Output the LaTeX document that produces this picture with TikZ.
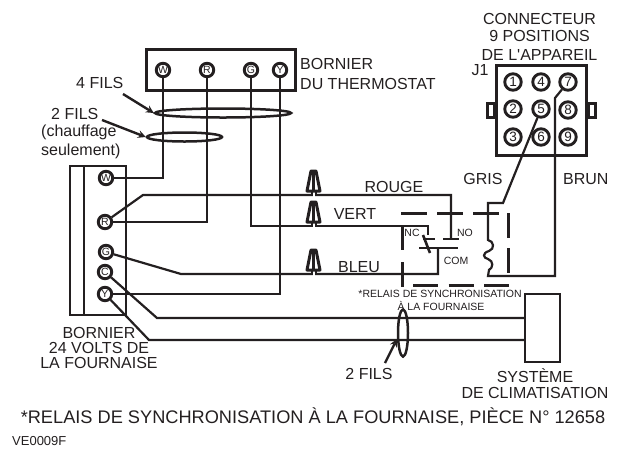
\documentclass[tikz,border=0pt]{standalone}
\usepackage{fontspec}
\setmainfont{Liberation Sans}
\usetikzlibrary{shapes.geometric}
\definecolor{ink}{RGB}{35,31,32}
\tikzset{
	wire/.style={line width=2.2pt, color=ink},
	boxed/.style={draw=ink, line width=3pt, rectangle, inner sep=0pt},
	term/.style={draw=ink, line width=2.9pt, circle, inner sep=0pt, minimum size=13.5pt, font=\fontsize{10.5}{11}\selectfont, text=ink},
	pinpos/.style={term, minimum size=16.5pt, font=\fontsize{13.5}{14}\selectfont},
	ring/.style={draw=ink, line width=2.5pt, ellipse, inner sep=0pt},
	lab/.style={inner sep=0pt, align=center, text=ink, font=\fontsize{16}{18.5}\selectfont},
	tiny/.style={inner sep=0pt, align=center, text=ink, font=\fontsize{10.5}{12}\selectfont},
	ptr/.style={-stealth, line width=2.4pt, color=ink},
	relay/.style={line width=3pt, color=ink},
	nut/.pic={
		\fill[white] (-1,-5) rectangle (1,1.5);
		\draw[line width=2pt, color=ink] (-2,0) -- (-2,-4) (2,0) -- (2,-4);
		\draw[line width=3pt, color=ink, line join=round] (-6.5,-4) -- (-2.5,-24) -- (2.5,-24) -- (6.5,-4) -- cycle;
		\draw[line width=2.2pt, color=ink] (0,-24) -- (0,-4);
	}
}
\begin{document}
\begin{tikzpicture}[x=1pt, y=-1pt]
	\useasboundingbox (0,0) rectangle (626,448);
	% bornier du thermostat
	\node[boxed, minimum width=149pt, minimum height=41pt] (tstat) at (221,70) {};
	\node[term] (thW) at (163,70) {W};
	\node[term] (thR) at (207,70) {R};
	\node[term] (thG) at (251,70) {G};
	\node[term] (thY) at (280,70) {Y};
	\node[lab, anchor=west] (tstatA) at (300,64) {BORNIER};
	\node[lab, anchor=west] (tstatB) at (300,84) {DU THERMOSTAT};
	% bornier de la fournaise
	\node[boxed, line width=2.5pt, minimum width=56pt, minimum height=149pt] (furn) at (98,240.5) {};
	\coordinate (furnI) at (84,165);
	\draw[wire] (furnI) -- (furnI |- furn.south);
	\node[term] (foW) at (106,178) {W};
	\node[term] (foR) at (105,222) {R};
	\node[term] (foG) at (106,252) {G};
	\node[term] (foC) at (105,272) {C};
	\node[term] (foY) at (105,294) {Y};
	\node[lab] (furnA) at (99,333) {BORNIER};
	\node[lab] (furnB) at (99,348) {24 VOLTS DE};
	\node[lab] (furnC) at (99,363) {LA FOURNAISE};
	% connecteur
	\node[boxed, minimum width=90pt, minimum height=90pt] (conn) at (541,110) {};
	\node[boxed, minimum width=7pt, minimum height=14pt] (tabL) at (491,110) {};
	\node[boxed, minimum width=7pt, minimum height=14pt] (tabR) at (591.5,110) {};
	\node[pinpos] (c1) at (513,82) {1};
	\node[pinpos] (c2) at (513,109) {2};
	\node[pinpos] (c3) at (513,137) {3};
	\node[pinpos] (c4) at (541,82) {4};
	\node[pinpos] (c5) at (541,109) {5};
	\node[pinpos] (c6) at (541,137) {6};
	\node[pinpos] (c7) at (568,82) {7};
	\node[pinpos] (c8) at (568,110) {8};
	\node[pinpos] (c9) at (568,137) {9};
	\node[lab] (connA) at (539.5,18.5) {CONNECTEUR};
	\node[lab] (connB) at (539.5,36) {9 POSITIONS};
	\node[lab] (connC) at (539.5,55) {DE L\textquotesingle APPAREIL};
	\node[lab] (jone) at (480,70) {J1};
	% systeme
	\node[boxed, line width=2.5pt, minimum width=35pt, minimum height=68pt] (sys) at (542.5,328) {};
	\node[lab] (sysA) at (535,376) {SYSTÈME};
	\node[lab] (sysB) at (535,393) {DE CLIMATISATION};
	% fils
	\coordinate (rBend) at (143,195);
	\coordinate (rDrop) at (451,239);
	\coordinate (gDrop) at (428,235);
	\coordinate (gBend) at (181,274);
	\coordinate (comTop) at (438,248);
	\coordinate (cBend) at (157,318);
	\coordinate (yBend) at (149,340);
	\coordinate (grisA) at (503,203);
	\coordinate (grisB) at (488,203);
	\coordinate (loopA) at (488,240);
	\coordinate (loopB) at (488,276);
	\coordinate (brunA) at (555,98);
	\draw[wire] (thW) |- (foW);
	\draw[wire] (thR) |- (foR);
	\draw[wire] (thG) |- (gDrop |- 0,226) -- (gDrop);
	\draw[wire] (thY) |- (foY);
	\draw[wire] (foR) -- (rBend) -| (rDrop);
	\draw[wire] (foG) -- (gBend) -| (comTop);
	\draw[wire] (foC) -- (cBend) -- (cBend -| sys.west);
	\draw[wire] (foY) -- (yBend) -- (yBend -| sys.west);
	\draw[wire] (c5) -- (grisA) -- (grisB) -- (loopA) .. controls (494,241) and (495,249) .. (489,251) .. controls (482,253) and (483,258) .. (488,259) .. controls (494,261) and (493,268) .. (489,270) -- (loopB) -- (loopB -| brunA) -- (brunA) -- (c7);
	% relais
	\draw[relay, dash pattern=on 26pt off 10pt] (401,213) -- (499,213);
	\draw[relay, dash pattern=on 25pt off 10pt] (508,213) -- (508,274);
	\draw[relay, dash pattern=on 25pt off 12pt] (402,225) -- (402,287);
	\draw[relay, dash pattern=on 25pt off 10.5pt] (413,285) -- (510,285);
	\coordinate (ncL) at (423,239);
	\coordinate (noL) at (443,239);
	\coordinate (comL) at (419,248);
	\coordinate (armA) at (423,235);
	\coordinate (armB) at (430,253);
	\draw[wire] (ncL) -- (ncL -| 435,0);
	\draw[wire] (noL) -- (noL -| 459,0);
	\draw[wire] (comL) -- (comL -| 458,0);
	\draw[wire, line width=2.6pt] (armA) -- (armB);
	\node[tiny] (lNC) at (412,233) {NC};
	\node[tiny] (lNO) at (465,233) {NO};
	\node[tiny] (lCOM) at (456,261) {COM};
	\node[tiny] (rlA) at (440,294) {*RELAIS DE SYNCHRONISATION};
	\node[tiny] (rlB) at (441,306) {À LA FOURNAISE};
	% capuchons
	\pic at (313.5,195) {nut};
	\pic at (313.5,226) {nut};
	\pic at (313.5,274) {nut};
	\node[lab] (rouge) at (394,187) {ROUGE};
	\node[lab] (vert) at (355,214) {VERT};
	\node[lab] (bleu) at (359,267) {BLEU};
	\node[lab] (gris) at (483,179) {GRIS};
	\node[lab, anchor=west] (brun) at (563,179) {BRUN};
	% groupes de fils
	\node[ring, minimum width=136pt, minimum height=9pt] (ringD) at (223,113) {};
	\node[ring, minimum width=75pt, minimum height=9pt] (ringE) at (184.5,137) {};
	\node[ring, minimum width=10pt, minimum height=47pt] (ringS) at (403,333) {};
	\node[lab, anchor=west] (fourF) at (76,83) {4 FILS};
	\node[lab, anchor=west] (twoF) at (51,114) {2 FILS};
	\node[lab, anchor=west] (twoG) at (41,132) {(chauffage};
	\node[lab, anchor=west] (twoH) at (41,151) {seulement)};
	\node[lab] (sysF) at (369,374) {2 FILS};
	\coordinate (fourP) at (123,94);
	\coordinate (twoP) at (102,120);
	\coordinate (sysP) at (385,363);
	\draw[ptr] (fourP) -- (ringD.west);
	\draw[ptr] (twoP) -- (ringE.west);
	\draw[ptr] (sysP) -- (ringS.225);
	% notes
	\node[lab, font=\fontsize{18.2}{20}\selectfont] (note) at (313,417) {*RELAIS DE SYNCHRONISATION À LA FOURNAISE, PIÈCE N° 12658};
	\node[tiny, anchor=west, font=\fontsize{13}{14}\selectfont] (code) at (12,441.5) {VE0009F};
\end{tikzpicture}
\end{document}
